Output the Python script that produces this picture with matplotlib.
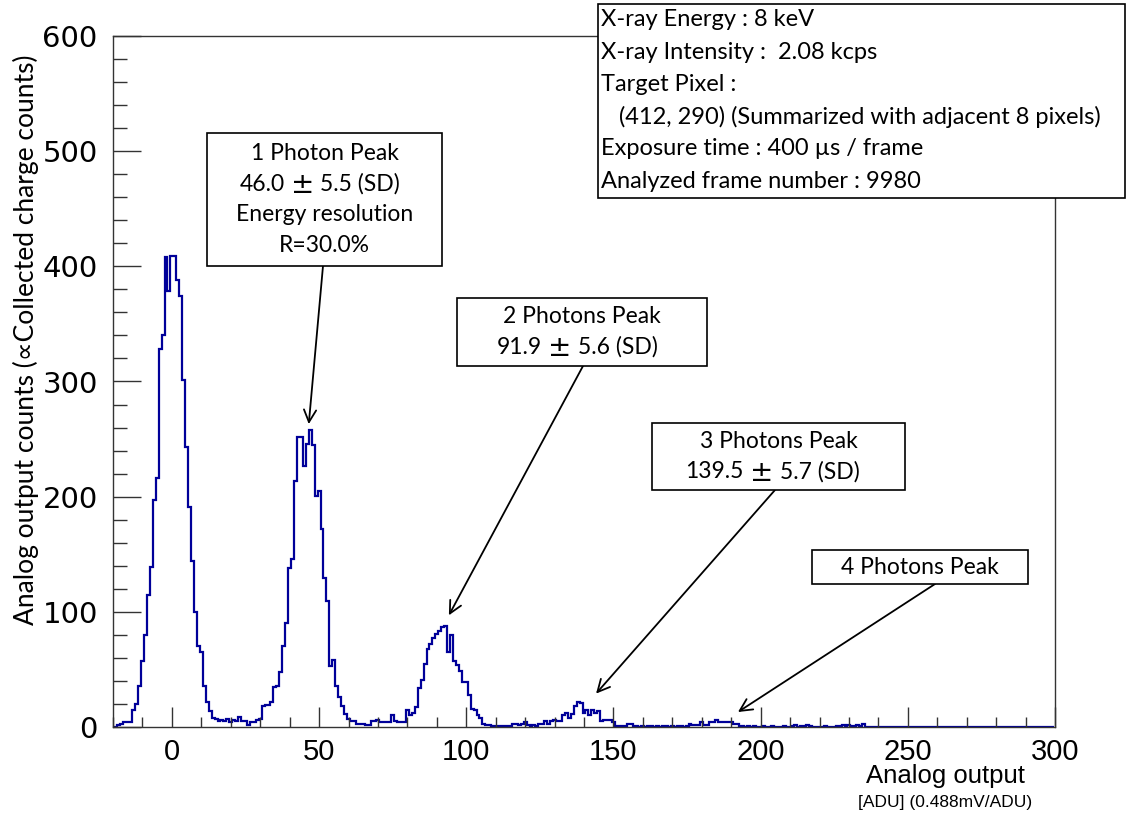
import matplotlib.pyplot as plt
import numpy as np
from matplotlib.patches import Rectangle
from matplotlib.ticker import MultipleLocator

# --- histogram data (bin centres in ADU, counts) ---
adu_first = -20
counts = [
    0, 0, 2, 3, 4, 4, 4, 15, 20, 36,            # -20 .. -11
    57, 80, 115, 139, 197, 216, 328, 340, 408, 379,  # -10 .. -1
    409, 409, 388, 374, 301, 243, 191, 144, 100, 70,  # 0 .. 9
    65, 36, 22, 14, 8, 7, 5, 6, 5, 7,
    4, 6, 5, 9, 5, 5, 2, 4, 4, 6,
    7, 18, 19, 19, 22, 35, 36, 48, 70, 90,       # 30 .. 39
    138, 146, 214, 252, 252, 227, 246, 258, 245, 201,
    205, 172, 129, 109, 53, 58, 36, 26, 18, 11,
    7, 5, 5, 3, 3, 3, 2, 2, 5, 5,
    6, 4, 4, 4, 4, 10, 5, 4, 4, 4,
    15, 10, 12, 17, 34, 41, 55, 68, 72, 77,      # 80 .. 89
    81, 83, 87, 88, 65, 80, 57, 54, 49, 39,
    39, 28, 16, 15, 10, 8, 3, 2, 2, 1,
    1, 1, 1, 1, 1, 1, 3, 3, 2, 3,
    4, 2, 1, 2, 1, 3, 3, 5, 3, 5,
    6, 5, 5, 10, 12, 8, 11, 18, 22, 21,          # 130 .. 139
    12, 15, 10, 15, 12, 14, 5, 6, 6, 6,
    4, 1, 1, 1, 1, 3, 3, 1, 1, 0,
    1, 0, 1, 1, 0, 1, 0, 1, 1, 0,
    1, 0, 1, 1, 0, 1, 3, 2, 2, 2,
    4, 2, 2, 4, 4, 6, 4, 4, 4, 4,                # 180 .. 189
    4, 3, 3, 1, 1, 0, 1, 0, 1, 0,
    0, 1, 0, 0, 1, 0, 0, 0, 1, 0,
    0, 1, 2, 0, 1, 1, 2, 1, 0, 0,
    0, 0, 1, 0, 0, 0, 1, 1, 2, 1,
    2, 1, 1, 2, 1, 3, 0, 0, 0, 0,                # 230 .. 239
] + [0] * 60

# annotation texts and arrow targets (ADU, counts)
peak_titles = ["1 Photon Peak", "2 Photons Peak", "3 Photons Peak", "4 Photons Peak"]
peak_means = ["46.0", "91.9", "139.5", None]
peak_sds = ["5.5", "5.6", "5.7", None]
peak_extra = [["Energy resolution", "R=30.0%"], [], [], []]
peak_targets = [(46.5, 263), (94.1, 97), (144.1, 29), (192.3, 13)]

info_lines = [
    "X-ray Energy : 8 keV",
    "X-ray Intensity :  2.08 kcps",
    "Target Pixel :",
    "   (412, 290) (Summarized with adjacent 8 pixels)",
    "Exposure time : 400 \u00b5s / frame",
    "Analyzed frame number : 9980",
]

W, H = 1126, 821
calib = ['Lato', 'DejaVu Sans']


def fx(x):
    return x / W


def fy(y):
    return 1 - y / H


fig = plt.figure(figsize=(W / 100, H / 100), dpi=100)
ax = fig.add_axes([fx(113), fy(727), (1055 - 113) / W, (727 - 36) / H])

edges = np.arange(adu_first - 0.5, adu_first + len(counts), 1.0)
ax.stairs(counts, edges, color='#000099', lw=1.6)

ax.set_xlim(-20, 300)
ax.set_ylim(0, 600)
ax.xaxis.set_major_locator(MultipleLocator(50))
ax.xaxis.set_minor_locator(MultipleLocator(10))
ax.yaxis.set_major_locator(MultipleLocator(100))
ax.yaxis.set_minor_locator(MultipleLocator(20))
ax.tick_params(axis='both', which='both', direction='in', color='#333333', width=1)
ax.tick_params(axis='x', which='major', length=14.5, pad=8)
ax.tick_params(axis='x', which='minor', length=7.2)
ax.tick_params(axis='y', which='major', length=20.5, pad=11)
ax.tick_params(axis='y', which='minor', length=10)
for lab in ax.get_xticklabels():
    lab.set_fontfamily('Liberation Sans')
    lab.set_fontsize(21)
for lab in ax.get_yticklabels():
    lab.set_fontfamily('DejaVu Sans')
    lab.set_fontsize(21)
for sp in ax.spines.values():
    sp.set_linewidth(1)
    sp.set_color('#333333')

# axis titles
fig.text(fx(1025), fy(776), "Analog output", ha='right', va='center',
         family='Liberation Sans', fontsize=18.5)
fig.text(fx(1032), fy(802), "[ADU] (0.488mV/ADU)", ha='right', va='center',
         family='Liberation Sans', fontsize=12.5)
fig.text(fx(26), fy(340), "Analog output counts (\u221dCollected charge counts)",
         rotation=90, ha='center', va='center', family=calib, fontsize=19)

# info box
fig.add_artist(Rectangle((fx(598), fy(198)), fx(1125) - fx(598), fy(4) - fy(198),
                         transform=fig.transFigure, facecolor='white',
                         edgecolor='black', lw=1.2))
for i, line in enumerate(info_lines):
    fig.text(fx(601), fy(20 + 32.2 * i), line, ha='left', va='center',
             family=calib, fontsize=17)

# peak boxes: (left, top, right, bottom) in pixels, arrow start (x, y) in pixels
boxes = [(207, 133, 442, 266), (457, 298, 707, 366), (652, 423, 905, 490), (812, 550, 1028, 584)]
starts = [(323, 266), (583, 366), (775, 490), (935, 584)]
pm_shift = [-22, -22, -17, 0]
for k, ((l, t, r, b), (sx, sy), tgt) in enumerate(zip(boxes, starts, peak_targets)):
    ax.annotate('', xy=tgt, xycoords='data',
                xytext=(fx(sx), fy(sy)), textcoords='figure fraction',
                arrowprops=dict(arrowstyle='->', color='black', lw=1.3,
                                mutation_scale=22, shrinkA=0, shrinkB=0))
    fig.add_artist(Rectangle((fx(l), fy(b)), fx(r) - fx(l), fy(t) - fy(b),
                             transform=fig.transFigure, facecolor='white',
                             edgecolor='black', lw=1.2))
    rows = [peak_titles[k]]
    if peak_means[k] is not None:
        rows.append('pm')
    rows += peak_extra[k]
    n = len(rows)
    cx = (l + r) / 2
    cy = (t + b) / 2
    for j, row in enumerate(rows):
        yy = fy(cy + (j - (n - 1) / 2) * 30.5)
        if row == 'pm':
            px = cx + pm_shift[k]
            fig.text(fx(px - 18), yy, peak_means[k], ha='right', va='center',
                     family=calib, fontsize=16.5)
            fig.text(fx(px), yy - 0.001, "\u00b1", ha='center', va='center',
                     family='DejaVu Sans', fontsize=20)
            fig.text(fx(px + 18), yy, peak_sds[k] + " (SD)", ha='left', va='center',
                     family=calib, fontsize=16.5)
        else:
            fig.text(fx(cx), yy, row, ha='center', va='center',
                     family=calib, fontsize=16.5)

plt.savefig('out.png', dpi=100)
